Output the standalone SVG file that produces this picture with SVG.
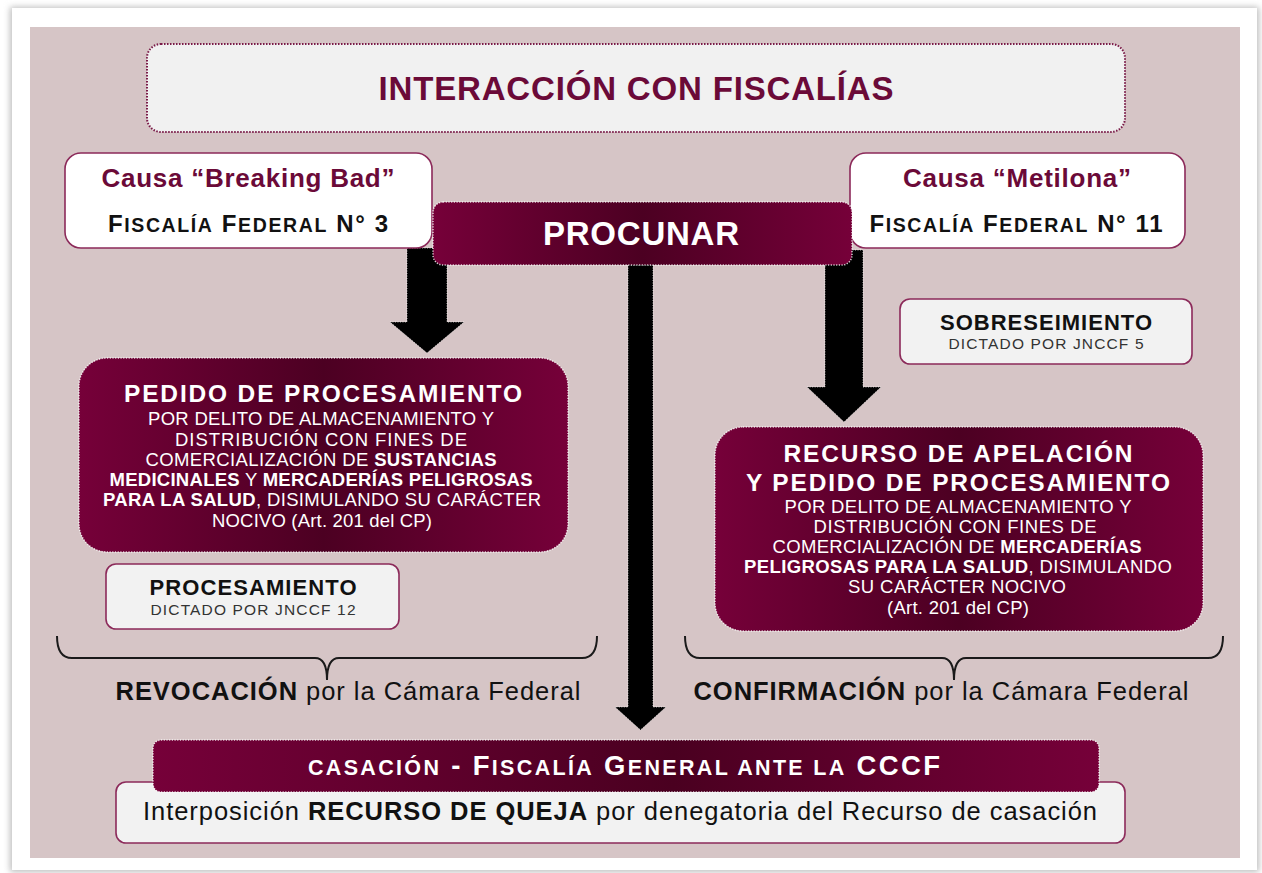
<svg xmlns="http://www.w3.org/2000/svg" width="1262" height="873" viewBox="0 0 1262 873">
<defs>
<linearGradient id="gm" x1="0" y1="0" x2="1" y2="0">
<stop offset="0" stop-color="#760039"/>
<stop offset="0.5" stop-color="#4c0022"/>
<stop offset="1" stop-color="#760039"/>
</linearGradient>
<linearGradient id="gc" x1="0" y1="0" x2="1" y2="0">
<stop offset="0" stop-color="#760039"/>
<stop offset="0.55" stop-color="#4a0020"/>
<stop offset="1" stop-color="#760039"/>
</linearGradient>
<filter id="sh" x="-5%" y="-5%" width="110%" height="110%">
<feGaussianBlur stdDeviation="3"/>
</filter>
<style>
text{font-family:"Liberation Sans",Arial,sans-serif;text-anchor:middle}
.title{font-size:33px;font-weight:bold;fill:#6b0a38}
.causa{font-size:26px;font-weight:bold;fill:#6b0a38}
.fisc{font-size:24px;font-weight:bold;fill:#111}
.sc{font-size:19.5px}
.whitebox{fill:#ffffff;stroke:#8c2a5a;stroke-width:1.6}
.greybox{fill:#f2f2f2;stroke:#8c2a5a;stroke-width:1.6}
.maroon{stroke:#ffffff;stroke-width:1.5;stroke-dasharray:1.2 1.5;stroke-opacity:0.8}
.big{font-size:24.5px;font-weight:bold;fill:#ffffff}
.body{font-size:18.5px;fill:#ffffff}
.b{font-weight:bold}
.h{font-size:22px;font-weight:bold;fill:#111}
.d{font-size:15.5px;fill:#333}
.lbl{font-size:25.5px;fill:#111}
.arrow{fill:#000;stroke:#ffffff;stroke-width:1;stroke-dasharray:1 1.5;stroke-opacity:0.7}
.brace{fill:none;stroke:#1a1a1a;stroke-width:2}
</style>
</defs>
<rect x="0" y="0" width="1262" height="873" fill="#ffffff"/>
<rect x="10" y="7" width="1249" height="865" fill="#bdbdbd" filter="url(#sh)"/>
<rect x="12" y="8" width="1245" height="862" fill="#ffffff"/>
<rect x="30" y="27" width="1210" height="831" fill="#d6c5c6"/>

<g id="connectors">
<path class="arrow" d="M407,248 L447,248 L447,322 L464,322 L427,353 L390,322 L407,322 Z"/>
<path class="arrow" d="M628,265 L653,265 L653,707 L666,707 L640.5,730 L615,707 L628,707 Z"/>
<path class="arrow" d="M825,250 L863,250 L863,387 L881,387 L844,422 L807,387 L825,387 Z"/>
<path class="brace" d="M57,636 Q57,658 72,658 L315,658 Q327,658 327,680 Q327,658 339,658 L582,658 Q597,658 597,636"/>
<path class="brace" d="M685,636 Q685,658 700,658 L942,658 Q954,658 954,680 Q954,658 966,658 L1208,658 Q1223,658 1223,636"/>
</g>

<g id="title">
<rect x="147" y="44" width="978" height="88" rx="14" fill="#f1f1f1" stroke="#7a1a48" stroke-width="2" stroke-dasharray="1.5 1.5"/>
<text class="title" x="636" y="100" textLength="515" lengthAdjust="spacing">INTERACCIÓN CON FISCALÍAS</text>
</g>

<g id="causa-breaking-bad">
<rect class="whitebox" x="65" y="153" width="367" height="95" rx="16"/>
<text class="causa" x="248" y="187" textLength="293" lengthAdjust="spacing">Causa “Breaking Bad”</text>
<text class="fisc" x="248" y="232" textLength="280" lengthAdjust="spacing">F<tspan class="sc">ISCALÍA</tspan> F<tspan class="sc">EDERAL</tspan> N° 3</text>
</g>

<g id="causa-metilona">
<rect class="whitebox" x="850" y="153" width="335" height="95" rx="16"/>
<text class="causa" x="1017" y="187" textLength="228" lengthAdjust="spacing">Causa “Metilona”</text>
<text class="fisc" x="1016" y="232" textLength="293" lengthAdjust="spacing">F<tspan class="sc">ISCALÍA</tspan> F<tspan class="sc">EDERAL</tspan> N° 11</text>
</g>

<g id="procunar">
<rect class="maroon" x="433" y="202" width="419" height="63" rx="10" fill="url(#gm)"/>
<text x="641" y="245" font-size="33" font-weight="bold" fill="#ffffff" textLength="196" lengthAdjust="spacing">PROCUNAR</text>
</g>

<g id="pedido">
<rect class="maroon" x="79" y="358" width="489" height="194" rx="28" fill="url(#gm)"/>
<text class="big" x="323" y="402" textLength="398" lengthAdjust="spacing">PEDIDO DE PROCESAMIENTO</text>
<text class="body" x="321" y="425" textLength="346" lengthAdjust="spacing">POR DELITO DE ALMACENAMIENTO Y</text>
<text class="body" x="321" y="446" textLength="292" lengthAdjust="spacing">DISTRIBUCIÓN CON FINES DE</text>
<text class="body" x="321" y="466" textLength="351" lengthAdjust="spacing">COMERCIALIZACIÓN DE <tspan class="b">SUSTANCIAS</tspan></text>
<text class="body" x="321" y="486" textLength="423" lengthAdjust="spacing"><tspan class="b">MEDICINALES</tspan> Y <tspan class="b">MERCADERÍAS PELIGROSAS</tspan></text>
<text class="body" x="322" y="506" textLength="438" lengthAdjust="spacing"><tspan class="b">PARA LA SALUD</tspan>, DISIMULANDO SU CARÁCTER</text>
<text class="body" x="322" y="527" textLength="220" lengthAdjust="spacing">NOCIVO (Art. 201 del CP)</text>
</g>

<g id="procesamiento">
<rect class="greybox" x="106" y="564" width="293" height="65" rx="10"/>
<text class="h" x="253" y="595" textLength="207" lengthAdjust="spacing">PROCESAMIENTO</text>
<text class="d" x="253" y="615" textLength="205" lengthAdjust="spacing">DICTADO POR JNCCF 12</text>
</g>

<g id="sobreseimiento">
<rect class="greybox" x="900" y="299" width="292" height="65" rx="10"/>
<text class="h" x="1046" y="330" textLength="212" lengthAdjust="spacing">SOBRESEIMIENTO</text>
<text class="d" x="1046" y="349" textLength="195" lengthAdjust="spacing">DICTADO POR JNCCF 5</text>
</g>

<g id="recurso">
<rect class="maroon" x="715" y="427" width="488" height="204" rx="28" fill="url(#gm)"/>
<text class="big" x="958" y="462" textLength="349" lengthAdjust="spacing">RECURSO DE APELACIÓN</text>
<text class="big" x="958" y="491" textLength="424" lengthAdjust="spacing">Y PEDIDO DE PROCESAMIENTO</text>
<text class="body" x="958" y="513" textLength="347" lengthAdjust="spacing">POR DELITO DE ALMACENAMIENTO Y</text>
<text class="body" x="955" y="533" textLength="283" lengthAdjust="spacing">DISTRIBUCIÓN CON FINES DE</text>
<text class="body" x="957" y="553" textLength="369" lengthAdjust="spacing">COMERCIALIZACIÓN DE <tspan class="b">MERCADERÍAS</tspan></text>
<text class="body" x="958" y="573" textLength="428" lengthAdjust="spacing"><tspan class="b">PELIGROSAS PARA LA SALUD</tspan>, DISIMULANDO</text>
<text class="body" x="957" y="593" textLength="218" lengthAdjust="spacing">SU CARÁCTER NOCIVO</text>
<text class="body" x="958" y="614" textLength="142" lengthAdjust="spacing">(Art. 201 del CP)</text>
</g>

<g id="revocacion">
<text class="lbl" x="348" y="700" textLength="465" lengthAdjust="spacing"><tspan class="b">REVOCACIÓN</tspan> por la Cámara Federal</text>
</g>

<g id="confirmacion">
<text class="lbl" x="941" y="700" textLength="495" lengthAdjust="spacing"><tspan class="b">CONFIRMACIÓN</tspan> por la Cámara Federal</text>
</g>

<g id="queja">
<rect class="greybox" x="116" y="782" width="1009" height="61" rx="10"/>
<text class="lbl" x="620" y="820" textLength="954" lengthAdjust="spacing">Interposición <tspan class="b">RECURSO DE QUEJA</tspan> por denegatoria del Recurso de casación</text>
</g>

<g id="casacion">
<rect class="maroon" x="153" y="740" width="946" height="52" rx="8" fill="url(#gc)"/>
<text x="624" y="775" font-size="27.5" font-weight="bold" fill="#ffffff" textLength="632" lengthAdjust="spacing"><tspan font-size="21.5">CASACIÓN</tspan> - F<tspan font-size="21.5">ISCALÍA</tspan> G<tspan font-size="21.5">ENERAL ANTE LA</tspan> CCCF</text>
</g>
</svg>
